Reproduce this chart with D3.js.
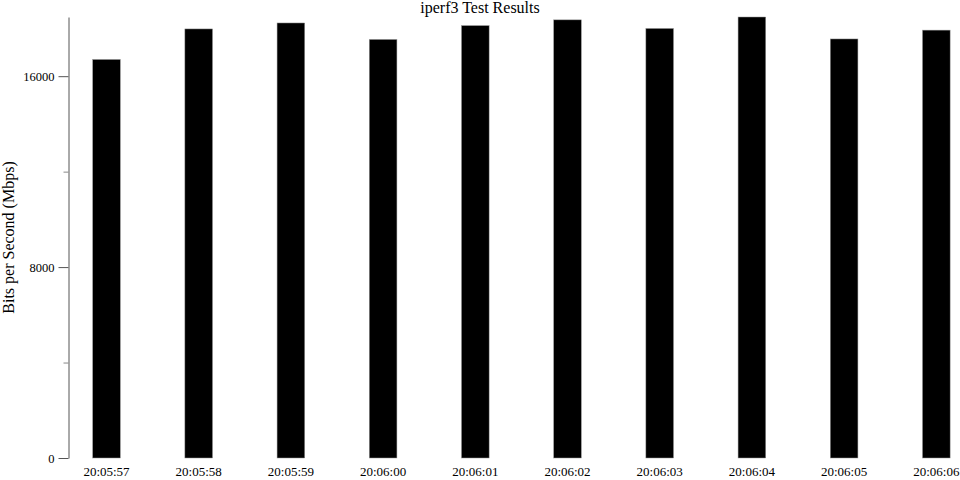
<!DOCTYPE html>
<html>
<head>
<meta charset="utf-8">
<script src="https://cdn.jsdelivr.net/npm/d3@7"></script>
<style>
  body { margin: 0; background: #fff; }
  svg { display: block; }
</style>
</head>
<body>
<div id="wrapper"></div>
<script>
// iperf3 interval results (Mbps)
const times = ["20:05:57", "20:05:58", "20:05:59", "20:06:00", "20:06:01",
               "20:06:02", "20:06:03", "20:06:04", "20:06:05", "20:06:06"];
const mbps = [16700, 17980, 18230, 17540, 18120, 18360, 18000, 18480, 17560, 17930];
const majorTicks = [0, 8000, 16000];
const minorTicks = [4000, 12000];

const width = 960;
const height = 480;
const margin = { top: 17, left: 68.5, bottom: 22 };
const serif = "'Liberation Serif', 'Times New Roman', serif";

const svg = d3.select("#wrapper")
    .append("svg")
    .attr("width", width)
    .attr("height", height)
    .style("font-family", serif);

const data = times.map((t, i) => ({ time: t, value: mbps[i] }));

const yScale = d3.scaleLinear()
    .domain([0, d3.max(mbps)])
    .range([height - margin.bottom, margin.top]);

const xScale = d3.scaleBand()
    .domain(times)
    .range([60.4, 982.4])
    .paddingInner(0.7)
    .paddingOuter(0.35);

// bars
svg.append("g")
    .selectAll("rect")
    .data(data)
    .enter()
    .append("rect")
    .attr("x", d => xScale(d.time))
    .attr("y", d => yScale(d.value))
    .attr("width", xScale.bandwidth())
    .attr("height", d => yScale(0) - yScale(d.value))
    .style("fill", "#000")
    .style("stroke", "#999")
    .style("stroke-width", 0.5);

// y axis, labelled ticks
const yAxis = svg.append("g")
    .attr("transform", `translate(${margin.left},0)`)
    .call(d3.axisLeft(yScale).tickValues(majorTicks).tickFormat(d3.format("d"))
        .tickSize(10).tickPadding(4).tickSizeOuter(0));
yAxis.attr("font-family", serif).attr("font-size", 12.5);
yAxis.selectAll("text").attr("fill", "#000");
yAxis.select(".domain").attr("stroke", "#555");
yAxis.selectAll(".tick line").attr("stroke", "#555");

// minor ticks without labels
const yMinor = svg.append("g")
    .attr("transform", `translate(${margin.left},0)`)
    .call(d3.axisLeft(yScale).tickValues(minorTicks).tickSize(5).tickFormat(""));
yMinor.select(".domain").remove();
yMinor.selectAll(".tick line").attr("stroke", "#888");

// x axis labels only
const xAxis = svg.append("g")
    .attr("transform", `translate(0,${height - margin.bottom})`)
    .call(d3.axisBottom(xScale).tickSize(0).tickPadding(9));
xAxis.attr("font-family", serif).attr("font-size", 13);
xAxis.select(".domain").remove();
xAxis.selectAll("text").attr("fill", "#000");

// title
svg.append("text")
    .attr("x", width / 2)
    .attr("y", 13)
    .attr("text-anchor", "middle")
    .style("font-size", "16px")
    .text("iperf3 Test Results");

// y label
svg.append("text")
    .attr("transform", `translate(14,${(yScale(0) + margin.top) / 2}) rotate(-90)`)
    .attr("text-anchor", "middle")
    .style("font-size", "16px")
    .text("Bits per Second (Mbps)");
</script>
</body>
</html>
